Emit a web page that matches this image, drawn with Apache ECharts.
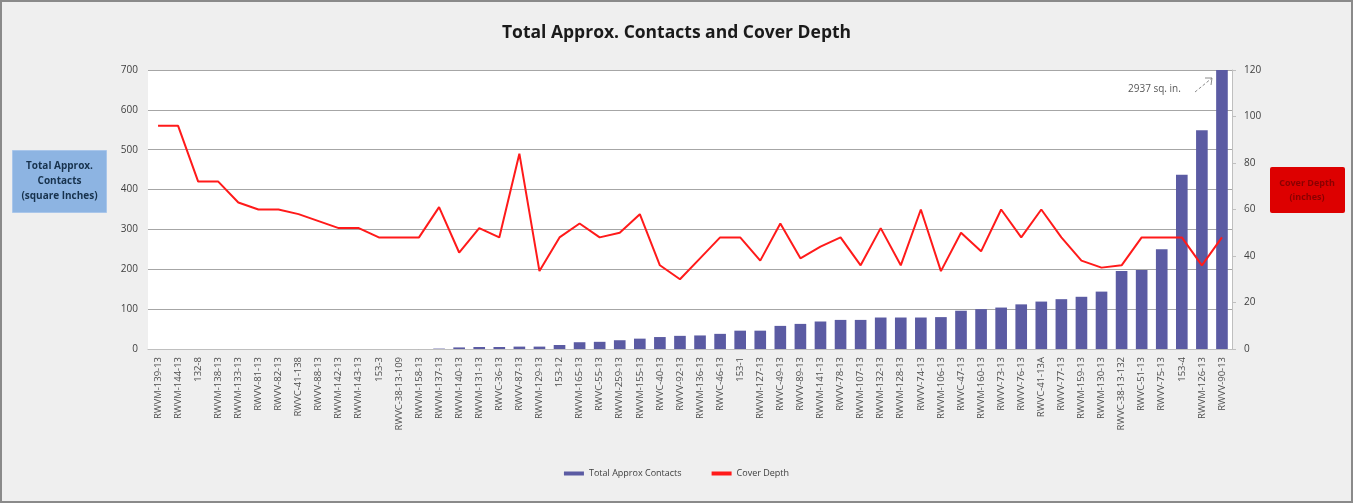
<!DOCTYPE html>
<html>
<head>
<meta charset="utf-8">
<script src="https://cdn.jsdelivr.net/npm/echarts@6/dist/echarts.min.js"></script>
<style>
  html, body { margin: 0; padding: 0; background: #ffffff; }
  #chart { width: 1353px; height: 503px; box-sizing: border-box; border: 2px solid #8a8a8a; background: #efefef; }
</style>
</head>
<body>
<div id="chart"></div>
<script>
var categories = [
  "RWVM-139-13", "RWVM-144-13", "132-8", "RWVM-138-13", "RWVM-133-13", "RWVV-81-13",
  "RWVV-82-13", "RWVC-41-138", "RWVV-88-13", "RWVM-142-13", "RWVM-143-13", "153-3",
  "RWVC-38-13-109", "RWVM-158-13", "RWVM-137-13", "RWVM-140-13", "RWVM-131-13", "RWVC-36-13",
  "RWVV-87-13", "RWVM-129-13", "153-12", "RWVM-165-13", "RWVC-55-13", "RWVM-259-13",
  "RWVM-155-13", "RWVC-40-13", "RWVV-92-13", "RWVM-136-13", "RWVC-46-13", "153-1",
  "RWVM-127-13", "RWVC-49-13", "RWVV-89-13", "RWVM-141-13", "RWVV-78-13", "RWVM-107-13",
  "RWVM-132-13", "RWVM-128-13", "RWVV-74-13", "RWVM-106-13", "RWVC-47-13", "RWVM-160-13",
  "RWVV-73-13", "RWVV-76-13", "RWVC-41-13A", "RWVV-77-13", "RWVM-159-13", "RWVM-130-13",
  "RWVC-38-13-132", "RWVC-51-13", "RWVV-75-13", "153-4", "RWVM-126-13", "RWVV-90-13"
];

// square inches
var contacts = [
  0, 0, 0, 0, 0, 0, 0, 0, 0, 0, 0, 0, 0, 0, 1,
  4, 5, 5, 6, 6, 10, 17, 18, 22, 26, 30, 33,
  34, 38, 46, 46, 58, 63, 69, 73, 73, 79, 79, 79, 80,
  96, 100, 104, 112, 119, 125, 131, 144, 196, 198, 250, 437, 549, 2937
];

// inches
var coverDepth = [
  96, 96, 72, 72, 63, 60, 60, 58, 55, 52, 52, 48, 48, 48, 61,
  41.5, 52, 48, 84, 33.5, 48, 54, 48, 50, 58, 36, 30,
  39, 48, 48, 38, 54, 39, 44, 48, 36, 52, 36, 60, 33.5,
  50, 42, 60, 48, 60, 48, 38, 35, 36, 48, 48, 48, 36, 48
];

var leftTicks = [0, 700, 100];
var rightTicks = [0, 120, 20];

var chart = echarts.init(document.getElementById("chart"), null, { renderer: "canvas" });

var option = {
  animation: false,
  backgroundColor: "#efefef",
  textStyle: { fontFamily: "Open Sans, Liberation Sans, sans-serif" },
  title: {
    text: "Total Approx. Contacts and Cover Depth",
    left: "center",
    top: 17,
    textStyle: { fontSize: 17.5, fontWeight: "bold", color: "#1a1a1a" }
  },
  legend: {
    bottom: 18,
    left: "center",
    itemWidth: 20,
    itemHeight: 4,
    itemGap: 30,
    textStyle: { fontSize: 9, color: "#404040" },
    data: [
      { name: "Total Approx Contacts", icon: "rect" },
      { name: "Cover Depth", icon: "rect" }
    ]
  },
  grid: { left: 146, right: 119, top: 68, bottom: 152, backgroundColor: "#ffffff", show: true, borderWidth: 0 },
  xAxis: {
    type: "category",
    data: categories,
    axisTick: { show: false },
    axisLine: { lineStyle: { color: "#bfbfbf" } },
    axisLabel: { rotate: 90, interval: 0, fontSize: 9.5, color: "#4d4d4d", margin: 8 }
  },
  yAxis: [
    {
      type: "value",
      min: leftTicks[0], max: leftTicks[1], interval: leftTicks[2],
      axisLine: { show: false },
      axisTick: { show: false },
      axisLabel: { fontSize: 10, color: "#404040", margin: 10 },
      splitLine: { lineStyle: { color: "#a6a6a6", width: 1 } }
    },
    {
      type: "value",
      min: rightTicks[0], max: rightTicks[1], interval: rightTicks[2],
      axisLine: { show: true, lineStyle: { color: "#bfbfbf" } },
      axisTick: { show: true, length: 4, lineStyle: { color: "#bfbfbf" } },
      axisLabel: { fontSize: 10, color: "#404040", margin: 12 },
      splitLine: { show: false }
    }
  ],
  series: [
    {
      name: "Total Approx Contacts",
      type: "bar",
      data: contacts,
      yAxisIndex: 0,
      barCategoryGap: "42%",
      clip: true,
      itemStyle: { color: "#5b5ba3" }
    },
    {
      name: "Cover Depth",
      type: "line",
      data: coverDepth,
      yAxisIndex: 1,
      symbol: "none",
      lineStyle: { color: "#ff1a1a", width: 2 },
      itemStyle: { color: "#ff1a1a" }
    }
  ],
  graphic: [
    {
      type: "group",
      left: 10, top: 148,
      children: [
        { type: "rect", shape: { x: 0, y: 0, width: 94, height: 62 }, style: { fill: "#8db4e2", stroke: "#a9c6ea" } },
        { type: "text", x: 47, y: 31, style: { text: "Total Approx.\nContacts\n(square Inches)", font: "bold 10px Open Sans, sans-serif", fill: "#17324d", align: "center", verticalAlign: "middle", lineHeight: 15 } }
      ]
    },
    {
      type: "group",
      left: 1268, top: 165,
      children: [
        { type: "rect", shape: { x: 0, y: 0, width: 75, height: 46, r: 2 }, style: { fill: "#dd0000" } },
        { type: "text", x: 37, y: 23, style: { text: "Cover Depth\n(inches)", font: "bold 9px Open Sans, sans-serif", fill: "#8a0000", align: "center", verticalAlign: "middle", lineHeight: 14 } }
      ]
    },
    {
      type: "text", left: 1126, top: 82,
      style: { text: "2937 sq. in.", font: "10px Open Sans, sans-serif", fill: "#595959" }
    },
    {
      type: "line", shape: { x1: 1193, y1: 90, x2: 1210, y2: 76 },
      style: { stroke: "#8c8c8c", lineWidth: 1, lineDash: [3, 2] }
    },
    {
      type: "polyline", shape: { points: [[1203, 76], [1210, 76], [1209, 83]] },
      style: { stroke: "#8c8c8c", lineWidth: 1, fill: null }
    }
  ]
};

chart.setOption(option);
</script>
</body>
</html>
